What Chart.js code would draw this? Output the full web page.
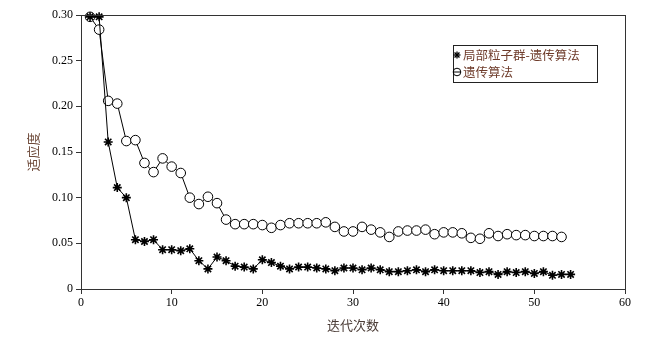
<!DOCTYPE html>
<html>
<head>
<meta charset="utf-8">
<script src="https://cdn.jsdelivr.net/npm/chart.js@4"></script>
<style>
  html, body { margin: 0; padding: 0; background: #fff; }
  #wrap { width: 667px; height: 340px; }
</style>
</head>
<body>
<div id="wrap"><canvas id="chart" width="667" height="340"></canvas></div>
<script>
// Datos
const nombreHibrido = '局部粒子群-遗传算法';
const nombreGenetico = '遗传算法';

const valoresHibrido = [
  0.298, 0.298, 0.161, 0.111, 0.100, 0.054, 0.052, 0.054, 0.043, 0.043,
  0.042, 0.044, 0.031, 0.022, 0.035, 0.031, 0.025, 0.024, 0.022, 0.032,
  0.029, 0.025, 0.022, 0.024, 0.024, 0.023, 0.022, 0.020, 0.023, 0.023,
  0.021, 0.023, 0.021, 0.019, 0.019, 0.020, 0.021, 0.019, 0.021, 0.020,
  0.020, 0.020, 0.020, 0.018, 0.019, 0.016, 0.019, 0.018, 0.019, 0.017,
  0.019, 0.015, 0.016, 0.016
];

const valoresGenetico = [
  0.298, 0.284, 0.206, 0.203, 0.162, 0.163, 0.138, 0.128, 0.143, 0.134,
  0.127, 0.100, 0.093, 0.101, 0.094, 0.076, 0.071, 0.071, 0.071, 0.070,
  0.067, 0.070, 0.072, 0.072, 0.072, 0.072, 0.073, 0.068, 0.063, 0.063,
  0.068, 0.065, 0.062, 0.057, 0.063, 0.064, 0.064, 0.065, 0.060, 0.062,
  0.062, 0.061, 0.056, 0.055, 0.061, 0.058, 0.060, 0.059, 0.059, 0.058,
  0.058, 0.058, 0.057
];

const ticksX = [0, 10, 20, 30, 40, 50, 60];
const ticksY = [0, 0.05, 0.10, 0.15, 0.20, 0.25, 0.30];

const tituloX = '迭代次数';
const tituloY = '适应度';

const aPuntos = vals => vals.map((v, i) => ({ x: i + 1, y: v }));

const fuenteSerif = "'Liberation Serif', 'DejaVu Serif', serif";
const fuenteCJK = "'Noto Sans CJK SC', 'Noto Sans', sans-serif";

// Marco completo y leyenda dentro del área del gráfico
const marcoYLeyenda = {
  id: 'marcoYLeyenda',
  afterDraw(chart) {
    const { ctx, chartArea } = chart;
    ctx.save();
    ctx.strokeStyle = '#333';
    ctx.lineWidth = 1;
    ctx.strokeRect(chartArea.left + 0.5, chartArea.top + 0.5,
      chartArea.right - chartArea.left, chartArea.bottom - chartArea.top);

    // Caja de la leyenda
    const bx = 453, by = 45, bw = 144, bh = 37;
    ctx.fillStyle = '#fff';
    ctx.fillRect(bx, by, bw, bh);
    ctx.strokeStyle = '#222';
    ctx.strokeRect(bx + 0.5, by + 0.5, bw, bh);

    // Marcadores
    ctx.strokeStyle = '#000';
    ctx.lineWidth = 1.3;
    const mx = 457, y1 = 55, y2 = 72;
    const r = 3.5;
    for (let k = 0; k < 4; k++) {
      const a = k * Math.PI / 4;
      ctx.beginPath();
      ctx.moveTo(mx - r * Math.cos(a), y1 - r * Math.sin(a));
      ctx.lineTo(mx + r * Math.cos(a), y1 + r * Math.sin(a));
      ctx.stroke();
    }
    ctx.lineWidth = 1;
    ctx.beginPath();
    ctx.arc(mx, y2, 3.8, 0, Math.PI * 2);
    ctx.stroke();
    ctx.beginPath();
    ctx.moveTo(mx - 4, y2);
    ctx.lineTo(mx + 4, y2);
    ctx.stroke();

    ctx.fillStyle = '#6e3b2a';
    ctx.font = "12.5px " + fuenteCJK;
    ctx.textBaseline = 'middle';
    ctx.textAlign = 'left';
    ctx.fillText(nombreHibrido, 463, y1);
    ctx.fillText(nombreGenetico, 463, y2);
    ctx.restore();
  }
};

const ctx = document.getElementById('chart').getContext('2d');

new Chart(ctx, {
  type: 'line',
  data: {
    datasets: [
      {
        label: nombreHibrido,
        data: aPuntos(valoresHibrido),
        borderColor: '#000',
        borderWidth: 1,
        pointStyle: 'star',
        pointRadius: 4.5,
        pointBorderWidth: 1.6,
        pointBorderColor: '#000',
        pointBackgroundColor: '#000',
        tension: 0
      },
      {
        label: nombreGenetico,
        data: aPuntos(valoresGenetico),
        borderColor: '#000',
        borderWidth: 1,
        pointStyle: 'circle',
        pointRadius: 4.8,
        pointBorderWidth: 1,
        pointBorderColor: '#000',
        pointBackgroundColor: '#fff',
        tension: 0
      }
    ]
  },
  options: {
    responsive: false,
    animation: false,
    clip: false,
    layout: { padding: { top: 15, right: 42, bottom: 0, left: 0 } },
    plugins: {
      legend: { display: false },
      tooltip: { enabled: false }
    },
    scales: {
      x: {
        type: 'linear',
        min: 0,
        max: 60,
        afterBuildTicks: s => { s.ticks = ticksX.map(v => ({ value: v })); },
        afterFit: s => { s.height = 51; },
        grid: { drawOnChartArea: false, tickLength: 5, color: '#333' },
        border: { color: '#333', width: 1 },
        ticks: {
          color: '#000',
          padding: 2,
          font: { family: fuenteSerif, size: 12 },
          callback: v => String(v)
        },
        title: {
          display: true,
          text: tituloX,
          color: '#4a3b35',
          padding: { top: 2, bottom: 7 },
          font: { family: fuenteCJK, size: 13 }
        }
      },
      y: {
        min: 0,
        max: 0.3,
        afterBuildTicks: s => { s.ticks = ticksY.map(v => ({ value: v })); },
        afterFit: s => { s.width = 81; },
        grid: { drawOnChartArea: false, tickLength: 5, color: '#333' },
        border: { color: '#333', width: 1 },
        ticks: {
          color: '#000',
          padding: 3,
          font: { family: fuenteSerif, size: 12 },
          callback: v => (v === 0 ? '0' : v.toFixed(2))
        },
        title: {
          display: true,
          text: tituloY,
          color: '#6e4a3a',
          padding: { top: 25, bottom: 0 },
          font: { family: fuenteCJK, size: 13 }
        }
      }
    }
  },
  plugins: [marcoYLeyenda]
});
</script>
</body>
</html>
